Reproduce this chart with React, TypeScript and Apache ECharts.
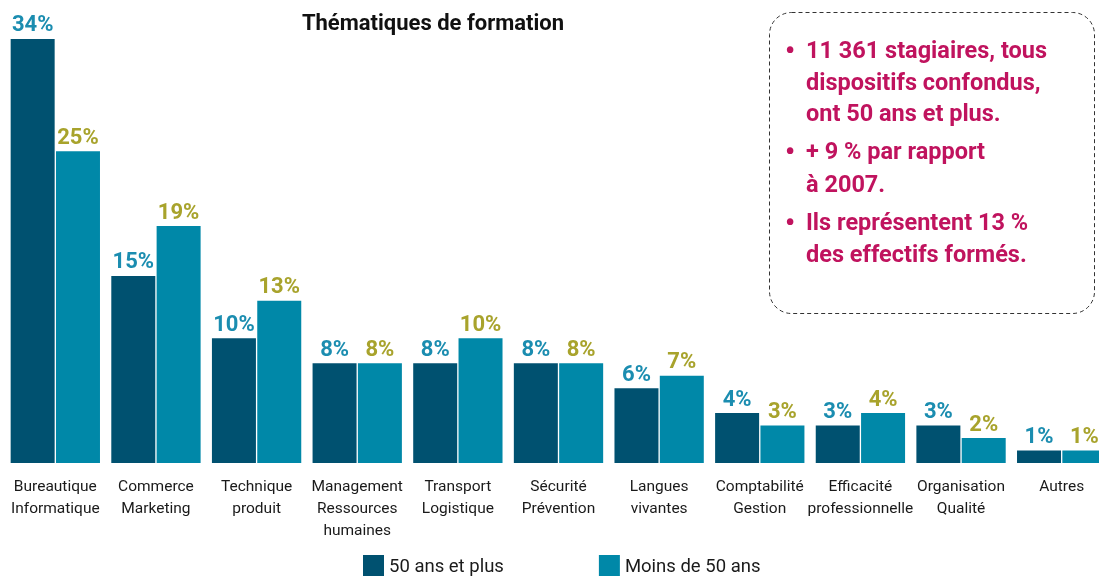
import React, { useEffect, useRef } from "react";
import * as echarts from "echarts";

const categories = [
  "Bureautique\nInformatique",
  "Commerce\nMarketing",
  "Technique\nproduit",
  "Management\nRessources\nhumaines",
  "Transport\nLogistique",
  "Sécurité\nPrévention",
  "Langues\nvivantes",
  "Comptabilité\nGestion",
  "Efficacité\nprofessionnelle",
  "Organisation\nQualité",
  "Autres",
];
const seniors = [34, 15, 10, 8, 8, 8, 6, 4, 3, 3, 1];
const juniors = [25, 19, 13, 8, 10, 8, 7, 3, 4, 2, 1];
const seriesNames = ["50 ans et plus", "Moins de 50 ans"];
const title = "Thématiques de formation";
const boxLines = [
  { bullet: true, text: "11 361 stagiaires, tous" },
  { bullet: false, text: "dispositifs confondus," },
  { bullet: false, text: "ont 50 ans et plus." },
  { bullet: true, text: "+ 9 % par rapport" },
  { bullet: false, text: "à 2007." },
  { bullet: true, text: "Ils représentent 13 %" },
  { bullet: false, text: "des effectifs formés." },
];
const boxLineY = [50, 82, 113, 151, 184, 222, 254];

const FONT = "Roboto, 'Noto Sans', sans-serif";
const DARK = "#005170";
const LIGHT = "#0088a8";
const TEAL_LABEL = "#1b8db0";
const OLIVE_LABEL = "#a8a32c";
const MAGENTA = "#c0135e";

export default function App() {
  const ref = useRef<HTMLDivElement>(null);
  useEffect(() => {
    if (!ref.current) return;
    const chart = echarts.init(ref.current, null, { renderer: "svg" });
    const boxTexts: any[] = [];
    boxLines.forEach((l, i) => {
      if (l.bullet) {
        boxTexts.push({
          type: "text",
          x: 785,
          y: boxLineY[i],
          style: { text: "•", font: `bold 28px ${FONT}`, fill: MAGENTA, verticalAlign: "middle" },
        });
      }
      boxTexts.push({
        type: "text",
        x: 806,
        y: boxLineY[i],
        style: { text: l.text, font: `bold 23.5px ${FONT}`, fill: MAGENTA, verticalAlign: "middle" },
      });
    });
    chart.setOption({
      animation: false,
      grid: { left: 5, right: 0, top: 14, bottom: 114, containLabel: false },
      xAxis: {
        type: "category",
        data: categories,
        axisLine: { show: false },
        axisTick: { show: false },
        axisLabel: {
          interval: 0,
          margin: 12,
          fontFamily: FONT,
          fontSize: 15.5,
          lineHeight: 22,
          color: "#1a1a1a",
          verticalAlign: "top",
        },
      },
      yAxis: { type: "value", min: 0, max: 36, show: false, splitLine: { show: false } },
      legend: {
        data: seriesNames,
        left: 358,
        top: 550,
        itemWidth: 21,
        itemHeight: 21,
        itemGap: 95,
        icon: "rect",
        textStyle: { fontFamily: FONT, fontSize: 18.5, color: "#1a1a1a", padding: [0, 0, 0, 0] },
      },
      series: [
        {
          name: seriesNames[0],
          type: "bar",
          data: seniors,
          barWidth: 44,
          barGap: "3%",
          itemStyle: { color: DARK },
          label: {
            show: true,
            position: "top",
            distance: 4,
            formatter: "{c}%",
            fontFamily: FONT,
            fontWeight: "bold",
            fontSize: 22,
            color: TEAL_LABEL,
          },
        },
        {
          name: seriesNames[1],
          type: "bar",
          data: juniors,
          barWidth: 44,
          itemStyle: { color: LIGHT },
          label: {
            show: true,
            position: "top",
            distance: 4,
            formatter: "{c}%",
            fontFamily: FONT,
            fontWeight: "bold",
            fontSize: 22,
            color: OLIVE_LABEL,
          },
        },
      ],
      graphic: [
        {
          type: "text",
          x: 433,
          y: 22,
          style: {
            text: title,
            font: `bold 22px ${FONT}`,
            fill: "#111",
            align: "center",
            verticalAlign: "middle",
          },
        },
        {
          type: "rect",
          shape: { x: 769.5, y: 12.5, width: 325, height: 301, r: 22 },
          style: { fill: "none", stroke: "#333", lineWidth: 1, lineDash: [4, 3] },
        },
        ...boxTexts,
      ],
    });
    return () => chart.dispose();
  }, []);
  return (
    <div style={{ position: "fixed", left: 0, top: 0, width: 1099, height: 577, overflow: "hidden" }}>
      <div ref={ref} style={{ width: 1112, height: 577 }} />
    </div>
  );
}
